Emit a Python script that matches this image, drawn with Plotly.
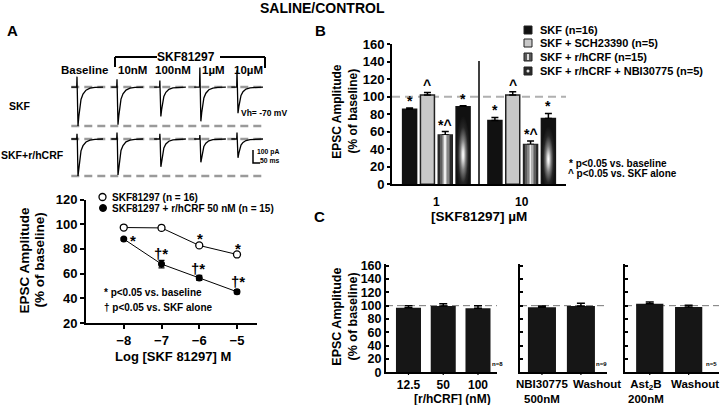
import base64
import plotly.graph_objects as go

W, H = 720, 405
def X(px): return px / W
def Y(py): return 1 - py / H

FONT = "Liberation Sans, Arial, sans-serif"

# ---------------- DATA ----------------
# Panel A - example EPSC traces
trace_labels = ["Baseline", "10nM", "100nM", "1µM", "10µM"]
trace_offsets_ms = [0, 280, 580, 860, 1120]
shape_t_ms = [-40, -2, 0, 2, 7, 13, 19, 28, 42, 63, 91, 126, 182]
shape_norm = [0, 0, 0, 0, -1.0, -0.75, -0.52, -0.32, -0.18, -0.08, -0.03, -0.01, 0]
artifact_norm = [0, 0, 1, 0, 0, 0, 0, 0, 0, 0, 0, 0, 0]
row_names = ["SKF", "SKF+r/hCRF"]
row_baseline_pA = [0, -400]
skf_amp_pA = [300, 290, 226, 264, 201]
skf_art_pA = [80, 60, 50, 150, 130]
crf_amp_pA = [285, 277, 214, 179, 145]
crf_art_pA = [40, 50, 40, 30, 50]

# Panel A - dose response
log_conc = [-8, -7, -6, -5]
skf_alone = [97.3, 97.0, 82.8, 75.5]
skf_alone_err = [1.0, 2.0, 1.0, 1.5]
skf_crf = [88.0, 67.7, 56.5, 45.3]
skf_crf_err = [1.0, 3.0, 2.0, 1.5]

# Panel B
b_conc_labels = ["1", "10"]
b_series = ["SKF (n=16)", "SKF + SCH23390 (n=5)", "SKF + r/hCRF (n=15)",
            "SKF + r/hCRF + NBI30775 (n=5)"]
b_skf = [85.7, 73.0]
b_skf_err = [1.5, 3.4]
b_sch = [102.0, 102.0]
b_sch_err = [3.0, 3.8]
b_crf = [56.3, 45.6]
b_crf_err = [4.0, 3.8]
b_nbi = [88.7, 75.3]
b_nbi_err = [1.0, 5.7]
b_marks = [["*", "*"], ["^", "^"], ["*^", "*^"], ["*", "*"]]

# Panel C
c1_labels = ["12.5", "50", "100"]
c1_vals = [97.0, 99.5, 96.0]
c1_err = [3.0, 3.5, 4.0]
c2_labels = ["NBI30775<br>500nM", "Washout"]
c2_vals = [97.5, 99.5]
c2_err = [2.0, 4.0]
c3_labels = ["Ast<sub>2</sub>B<br>200nM", "Washout"]
c3_vals = [103.0, 98.0]
c3_err = [2.5, 2.5]
c_n = ["n=8", "n=9", "n=5"]

fig = go.Figure()

# ---------------- Panel A traces ----------------
x_end = 1316
dash_levels = [row_baseline_pA[0], row_baseline_pA[0] - skf_amp_pA[0],
               row_baseline_pA[1], row_baseline_pA[1] - crf_amp_pA[0]]
for lvl in dash_levels:
    fig.add_trace(go.Scatter(x=[-40, x_end], y=[lvl, lvl], mode="lines",
                             line=dict(color="#9a9a9a", width=2.5, dash="8px,5px"),
                             xaxis="x", yaxis="y", showlegend=False, hoverinfo="skip"))
for base, amps, arts in [(row_baseline_pA[0], skf_amp_pA, skf_art_pA),
                         (row_baseline_pA[1], crf_amp_pA, crf_art_pA)]:
    for off, amp, art in zip(trace_offsets_ms, amps, arts):
        xs = [off + t for t in shape_t_ms]
        ys = [base + amp * s + art * a for s, a in zip(shape_norm, artifact_norm)]
        fig.add_trace(go.Scatter(x=xs, y=ys, mode="lines",
                                 line=dict(color="black", width=1.3),
                                 xaxis="x", yaxis="y", showlegend=False, hoverinfo="skip"))

# scale bar (100 pA / 50 ms)
sb_x, sb_y = 1232, -485
fig.add_trace(go.Scatter(x=[sb_x, sb_x, sb_x + 50], y=[sb_y, sb_y - 100, sb_y - 100],
                         mode="lines", line=dict(color="black", width=1.5),
                         xaxis="x", yaxis="y", showlegend=False, hoverinfo="skip"))

# ---------------- Panel A dose-response ----------------
fig.add_trace(go.Scatter(x=log_conc, y=skf_alone, mode="lines+markers",
                         error_y=dict(type="data", array=skf_alone_err, color="black",
                                      thickness=1.2, width=3),
                         line=dict(color="black", width=1),
                         marker=dict(symbol="circle", size=7, color="white",
                                     line=dict(color="black", width=1.3)),
                         xaxis="x2", yaxis="y2", showlegend=False))
fig.add_trace(go.Scatter(x=log_conc, y=skf_crf, mode="lines+markers",
                         error_y=dict(type="data", array=skf_crf_err, color="black",
                                      thickness=1.2, width=3),
                         line=dict(color="black", width=1),
                         marker=dict(symbol="circle", size=7, color="black"),
                         xaxis="x2", yaxis="y2", showlegend=False))

# ---------------- Panel B ----------------
BARGAP, GROUPGAP = 0.164, 0.215
b_vals = [b_skf, b_sch, b_crf, b_nbi]
b_errs = [b_skf_err, b_sch_err, b_crf_err, b_nbi_err]
b_fill = ["#111111", "#c8c8c8", "#666666", "#151515"]
b_line = ["#111111", "#222222", "#222222", "#151515"]
for k in range(4):
    fig.add_trace(go.Bar(x=list(range(len(b_conc_labels))), y=b_vals[k], name=b_series[k],
                         marker=dict(color=b_fill[k], line=dict(color=b_line[k], width=1.5)),
                         error_y=dict(type="data", array=b_errs[k],
                                      arrayminus=[0] * len(b_errs[k]), symmetric=False,
                                      color="black", thickness=1.5, width=3.5),
                         xaxis="x3", yaxis="y3", showlegend=False))

def svg_uri(svg):
    return "data:image/svg+xml;base64," + base64.b64encode(svg.encode()).decode()

stripe_stops = [(0, "#2b2b2b"), (0.13, "#2b2b2b"), (0.13, "#5e5e5e"), (0.25, "#5e5e5e"),
                (0.25, "#858585"), (0.36, "#858585"), (0.36, "#b0b0b0"), (0.44, "#b0b0b0"),
                (0.44, "#ececec"), (0.56, "#ececec"), (0.56, "#b0b0b0"), (0.64, "#b0b0b0"),
                (0.64, "#858585"), (0.75, "#858585"), (0.75, "#5e5e5e"), (0.87, "#5e5e5e"),
                (0.87, "#2b2b2b"), (1, "#2b2b2b")]
stripe_svg = ("<svg xmlns='http://www.w3.org/2000/svg' width='100' height='100' "
              "viewBox='0 0 100 100' preserveAspectRatio='none'><defs>"
              "<linearGradient id='s' x1='0' y1='0' x2='1' y2='0'>"
              + "".join(f"<stop offset='{o}' stop-color='{c}'/>" for o, c in stripe_stops)
              + "</linearGradient></defs><rect width='100' height='100' fill='url(#s)'/></svg>")
glow_svg = ("<svg xmlns='http://www.w3.org/2000/svg' width='100' height='100' "
            "viewBox='0 0 100 100' preserveAspectRatio='none'><defs>"
            "<radialGradient id='g' cx='0.5' cy='0.62' r='0.5'>"
            "<stop offset='0' stop-color='#ffffff'/><stop offset='0.12' stop-color='#e6e6e6'/>"
            "<stop offset='0.4' stop-color='#7a7a7a'/><stop offset='0.72' stop-color='#262626'/>"
            "<stop offset='1' stop-color='#111111'/></radialGradient></defs>"
            "<rect width='100' height='100' fill='url(#g)'/></svg>")

slot = (1 - BARGAP) / 4
bw = slot * (1 - GROUPGAP)
images = []
for k, svg in [(2, stripe_svg), (3, glow_svg)]:
    for i, v in enumerate(b_vals[k]):
        cx = i + (k - 1.5) * slot
        images.append(dict(source=svg_uri(svg), xref="x3", yref="y3", x=cx - bw / 2, y=v,
                           sizex=bw, sizey=v, xanchor="left", yanchor="top",
                           sizing="stretch", layer="above"))

# ---------------- Panel C ----------------
c_sets = [(c1_labels, c1_vals, c1_err, 0.72, "x4", "y4"),
          (c2_labels, c2_vals, c2_err, 0.72, "x5", "y5"),
          (c3_labels, c3_vals, c3_err, 0.70, "x6", "y6")]
for labels, vals, errs, wdt, xa, ya in c_sets:
    fig.add_trace(go.Bar(x=list(range(len(labels))), y=vals, width=wdt,
                         marker=dict(color="#161616", line=dict(width=0)),
                         error_y=dict(type="data", array=errs, arrayminus=[0] * len(errs),
                                      symmetric=False, color="black", thickness=1.5, width=4),
                         xaxis=xa, yaxis=ya, showlegend=False))

# ---------------- Layout ----------------
tf = lambda s: dict(family=FONT, size=s, color="black", weight="bold")

def hidden(domain, rng):
    return dict(domain=domain, range=rng, visible=False, fixedrange=True, automargin=False)

def solid_axis(domain, rng, **kw):
    d = dict(domain=domain, range=rng, showline=True, linecolor="black", linewidth=2,
             showgrid=False, zeroline=False, ticks="outside", tickcolor="black",
             tickwidth=2, ticklen=4, tickfont=tf(13), fixedrange=True, automargin=False,
             tickangle=0)
    d.update(kw)
    return d

c_y = dict(tickvals=list(range(0, 161, 20)), ticks="inside", ticklen=3, tickwidth=1.5)
layout = dict(
    template="none",
    width=W, height=H, margin=dict(l=0, r=0, t=0, b=0, pad=0), autosize=False,
    paper_bgcolor="white", plot_bgcolor="rgba(0,0,0,0)",
    barmode="group", bargap=BARGAP, bargroupgap=GROUPGAP, showlegend=False,
    font=dict(family=FONT, color="black"),
    xaxis=hidden([X(65), X(290)], [-84, 1491]),
    yaxis=hidden([Y(185), Y(50)], [-754, 285]),
    xaxis2=solid_axis([X(86), X(257)], [-9, -4.47], tickvals=log_conc, anchor="y2"),
    yaxis2=solid_axis([Y(323), Y(199.5)], [20, 120], tickvals=[20, 40, 60, 80, 100, 120],
                      anchor="x2"),
    xaxis3=solid_axis([X(392), X(566)], [-0.52, 1.52], tickvals=[0, 1],
                      ticktext=b_conc_labels, tickcolor="rgba(0,0,0,0)", ticklen=5,
                      tickfont=tf(12), anchor="y3"),
    yaxis3=solid_axis([Y(184.3), Y(44.3)], [0, 160], dtick=20, ticklen=3, anchor="x3"),
    xaxis4=solid_axis([X(386), X(497)], [-0.647, 2.547], tickvals=[0, 1, 2],
                      ticktext=c1_labels, ticks="", tickfont=tf(12), anchor="y4"),
    yaxis4=solid_axis([Y(372.3), Y(263.7)], [0, 163], tickfont=tf(12.5), anchor="x4", **c_y),
    xaxis5=solid_axis([X(520), X(607)], [-0.564, 1.67], tickvals=[0, 1],
                      ticks="", showticklabels=False, anchor="y5"),
    yaxis5=solid_axis([Y(372.3), Y(263.7)], [0, 163], showticklabels=False, anchor="x5", **c_y),
    xaxis6=solid_axis([X(625), X(719)], [-0.636, 1.78], tickvals=[0, 1],
                      ticks="", showticklabels=False, anchor="y6"),
    yaxis6=solid_axis([Y(372.3), Y(263.7)], [0, 163], showticklabels=False, anchor="x6", **c_y),
    images=images,
)

shapes = []
# bracket over SKF81297 concentrations
for (x0, y0, x1, y1) in [(115, 67, 115, 57), (115, 57, 157, 57), (220, 57, 265, 57),
                         (265, 57, 265, 68)]:
    shapes.append(dict(type="line", xref="paper", yref="paper", x0=X(x0), y0=Y(y0),
                       x1=X(x1), y1=Y(y1), line=dict(color="black", width=2)))
# panel B reference line + divider
shapes.append(dict(type="line", xref="x3 domain", yref="y3", x0=0, x1=1, y0=100, y1=100,
                   line=dict(color="#b0b0b0", width=2, dash="8px,5px"), layer="below"))
shapes.append(dict(type="line", xref="x3", yref="y3", x0=0.5, x1=0.5, y0=0, y1=141,
                   line=dict(color="black", width=1.5)))
# panel C reference lines
for xa, ya in [("x4", "y4"), ("x5", "y5"), ("x6", "y6")]:
    shapes.append(dict(type="line", xref=f"{xa} domain", yref=ya, x0=0, x1=1, y0=100, y1=100,
                       line=dict(color="#777777", width=1, dash="7px,4px"), layer="below"))
# small x ticks under the bars in panel C
for xa, ya, labels in [("x4", "y4", c1_labels), ("x5", "y5", c2_labels), ("x6", "y6", c3_labels)]:
    for i in range(len(labels)):
        shapes.append(dict(type="line", xref=xa, yref=f"{ya} domain", x0=i, x1=i,
                           y0=0, y1=-0.025, line=dict(color="black", width=1.2)))
# legend A markers
shapes.append(dict(type="circle", xref="paper", yref="paper", x0=X(99), x1=X(106),
                   y0=Y(200.5), y1=Y(193.5), line=dict(color="black", width=1.3),
                   fillcolor="white"))
shapes.append(dict(type="circle", xref="paper", yref="paper", x0=X(99.5), x1=X(106.5),
                   y0=Y(211.5), y1=Y(204.5), line=dict(color="black", width=1),
                   fillcolor="black"))
# legend B swatches
sw_rows = [30, 43, 57, 71]
sw_fill = ["#111111", "#c8c8c8", "#5a5a5a", "#2a2a2a"]
for yc, fc in zip(sw_rows, sw_fill):
    shapes.append(dict(type="rect", xref="paper", yref="paper", x0=X(524), x1=X(532),
                       y0=Y(yc + 4), y1=Y(yc - 4), fillcolor=fc,
                       line=dict(color="#222222", width=1)))
shapes.append(dict(type="rect", xref="paper", yref="paper", x0=X(527), x1=X(529),
                   y0=Y(sw_rows[2] + 3), y1=Y(sw_rows[2] - 3), fillcolor="#dddddd",
                   line=dict(width=0)))
shapes.append(dict(type="circle", xref="paper", yref="paper", x0=X(526.5), x1=X(529.5),
                   y0=Y(sw_rows[3] + 1.5), y1=Y(sw_rows[3] - 1.5), fillcolor="#e0e0e0",
                   line=dict(width=0)))
layout["shapes"] = shapes

anns = []
def ann(x, y, text, size, xanchor="center", angle=0, yanchor="middle"):
    anns.append(dict(x=X(x), y=Y(y), xref="paper", yref="paper", text=text, showarrow=False,
                     xanchor=xanchor, yanchor=yanchor, textangle=angle, font=tf(size)))

ann(322.5, 8, "SALINE/CONTROL", 14)
ann(12.5, 30, "A", 15)
ann(320, 30, "B", 15)
ann(319, 217, "C", 15)

# Panel A traces text
ann(186, 57, "SKF81297", 12)
for x, lab in zip([84.7, 132.5, 173, 213, 248], trace_labels):
    ann(x, 70, lab, 11.5)
ann(20, 106, row_names[0], 10.5)
ann(32, 155, row_names[1], 10.5)
ann(264, 112.7, "Vh= -70 mV", 8.5)
ann(268, 151.7, "100 pA", 6.8)
ann(269, 160, "50 ms", 6.8)

# Panel A dose-response text
ann(110, 197, "SKF81297 (n = 16)", 10, xanchor="left")
ann(110, 208, "SKF81297 + r/hCRF 50 nM (n = 15)", 10, xanchor="left")
ann(101.5, 292, "* p<0.05 vs. baseline", 10, xanchor="left")
ann(101.5, 307.5, "† p<0.05 vs. SKF alone", 10, xanchor="left")
for x, y, t in [(133.3, 236.7, "*"), (200, 235, "*"), (238, 245, "*")]:
    ann(x, y + 3.5, t, 15)
for x, y, t in [(161, 251.7, "†*"), (198, 266.7, "†*"), (237.5, 280, "†*")]:
    ann(x, y + 1.5, t, 15)
ann(23.5, 260, "EPSC Amplitude", 13.5, angle=-90)
ann(38.5, 260, "(% of baseline)", 13.5, angle=-90)
ann(173, 356.7, "Log [SKF 81297] M", 13)

# Panel B text
for yc, name in zip(sw_rows, b_series):
    ann(538.3, yc, name, 11, xanchor="left")
ann(567, 163, "* p<0.05 vs. baseline", 10, xanchor="left")
ann(566, 174, "^ p<0.05 vs. SKF alone", 10, xanchor="left")
ann(336.7, 111, "EPSC Amplitude", 12, angle=-90)
ann(352.5, 111, "(% of baseline)", 12, angle=-90)
ann(479, 217, "[SKF81297] µM", 13.5)
for k in range(4):
    for i in range(2):
        top = b_vals[k][i] + b_errs[k][i]
        anns.append(dict(x=i + (k - 1.5) * slot, y=top, xref="x3", yref="y3",
                         text=b_marks[k][i], showarrow=False, xanchor="center",
                         yanchor="bottom", yshift=-3, font=tf(14)))

# Panel C text
ann(336.7, 317, "EPSC Amplitude", 12.5, angle=-90)
ann(352.5, 317, "(% of baseline)", 12.5, angle=-90)
ann(452, 398.5, "[r/hCRF] (nM)", 12)
for x, t in zip([497, 601, 711], c_n):
    ann(x, 364, t, 6)
# panel C category labels of the 2nd and 3rd sub-panels (placed as in the figure)
for x, t in zip([541.7, 596.5], c2_labels):
    anns.append(dict(x=X(x), y=Y(376), xref="paper", yref="paper", text=t, showarrow=False,
                     xanchor="center", yanchor="top", align="center", font=tf(11.5)))
for x, t in zip([646, 695], c3_labels):
    anns.append(dict(x=X(x), y=Y(376), xref="paper", yref="paper", text=t, showarrow=False,
                     xanchor="center", yanchor="top", align="center", font=tf(11.5)))

layout["annotations"] = anns
fig.update_layout(**layout)
fig.write_html("out.html", config={"displayModeBar": False},
               post_script="document.body.style.margin='0';document.body.style.overflow='hidden';")
